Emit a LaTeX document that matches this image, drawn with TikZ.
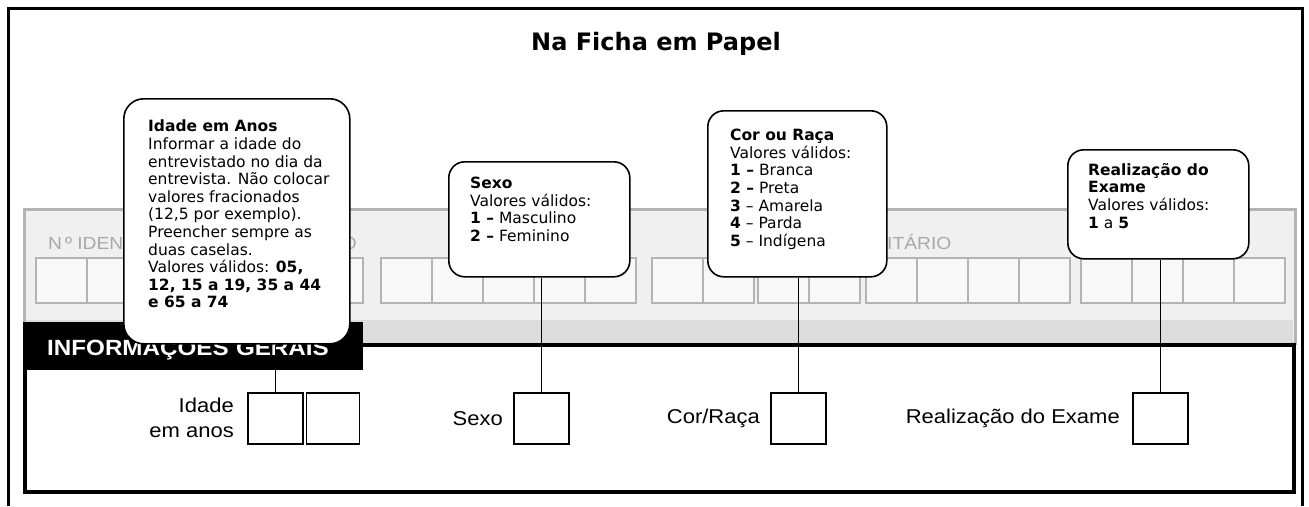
\documentclass[tikz,border=0pt]{standalone}
\usepackage{fontspec}
\setmainfont{DejaVu Sans}
\newfontfamily\formfont[FakeStretch=1.1]{Liberation Sans}
\usetikzlibrary{positioning}

\definecolor{panelgray}{HTML}{F0F0F0}
\definecolor{stripgray}{HTML}{DCDCDC}
\definecolor{linegray}{HTML}{B4B4B4}
\definecolor{cellgray}{HTML}{F8F8F8}
\definecolor{textgray}{HTML}{A8A8A8}

\begin{document}
\begin{tikzpicture}[x=1pt, y=-1pt,
    % Styles
    note/.style={rectangle, draw=black, fill=white, line width=1.6pt, rounded corners=16pt, anchor=north west, inner sep=0pt},
    notetext/.style={anchor=north west, align=left, inner sep=0pt, font=\fontsize{15.5}{17.6}\selectfont},
    answerbox/.style={rectangle, draw=black, line width=1.6pt, minimum width=55pt, minimum height=51pt, anchor=north west, inner sep=0pt},
    fieldname/.style={inner sep=0pt, align=right, font=\formfont\fontsize{20}{25}\selectfont},
    formtext/.style={inner sep=0pt, anchor=base west, text=textgray, font=\formfont\fontsize{17.5}{20}\selectfont},
    cell/.style={draw=linegray, fill=cellgray, line width=1.2pt},
    line/.style={draw, line width=1.2pt}
  ]
  \useasboundingbox (0,0) rectangle (1309,506);

  % Sheet
  \draw[line width=3pt] (8,506) -- (8,8) -- (1302,8) -- (1302,506);
  \node[font=\bfseries\fontsize{24}{28}\selectfont, anchor=base] (title) at (656,50) {Na Ficha em Papel};

  % Form behind
  \draw[draw=linegray, fill=panelgray, line width=3pt] (24,209) rectangle (1295,343);
  \fill[stripgray] (26,320) rectangle (1293,343);
  \foreach \start/\n in {36/4, 261/2, 381/5, 652/2, 758/2, 866/4, 1081/4}
    \foreach \i in {1,...,\n}
      \draw[cell] ({\start+(\i-1)*51},258) rectangle ++(51,45);
  \node[formtext] (idfield) at (48,249) {N\,º IDEN};
  \node[formtext, anchor=base east] (idfieldend) at (357,249) {O};
  \node[formtext] (unitfield) at (887,249) {ITÁRIO};

  % Informacoes gerais
  \draw[line width=4pt] (25,345) rectangle (1294,492);
  \node[fill=black, text=white, anchor=north west, minimum height=48pt, text width=292pt, text depth=0pt, inner xsep=24pt, inner ysep=0pt, align=left, font=\formfont\bfseries\fontsize{22}{24}\selectfont] (header) at (23,322) {INFORMAÇÕES GERAIS};

  % Boxes
  \node[answerbox] (idadebox) at (247,392) {};
  \node[answerbox, minimum width=53pt, right=2pt of idadebox] (idadebox2) {};
  \node[answerbox] (sexobox) at (513,392) {};
  \node[answerbox] (corbox) at (770,392) {};
  \node[answerbox] (examebox) at (1132,392) {};

  \node[fieldname, left=13pt of idadebox] (idadename) {Idade\\em anos};
  \node[fieldname, left=10pt of sexobox] (sexoname) {Sexo};
  \node[fieldname, left=10pt of corbox] (corname) {Cor/Raça};
  \node[fieldname, left=12pt of examebox] (examename) {Realização do Exame};

  % Callouts
  \node[note, rounded corners=20pt, minimum width=226pt, minimum height=245pt] (idadenote) at (123,98) {};
  \node[notetext, below right=22pt and 25pt of idadenote.north west] (idadetext) {%
    \textbf{Idade em Anos}\\
    Informar a idade do\\
    entrevistado no dia da\\
    entrevista. Não colocar\\
    valores fracionados\\
    (12,5 por exemplo).\\
    Preencher sempre as\\
    duas caselas.\\
    Valores válidos: \textbf{05,}\\
    \textbf{12, 15 a 19, 35 a 44}\\
    \textbf{e 65 a 74}};

  \node[note, minimum width=181pt, minimum height=115pt] (sexonote) at (448,161) {};
  \node[notetext, below right=16pt and 22pt of sexonote.north west] (sexotext) {%
    \textbf{Sexo}\\
    Valores válidos:\\
    \textbf{1 –} Masculino\\
    \textbf{2 –} Feminino};

  \node[note, minimum width=179pt, minimum height=166pt] (cornote) at (707,110) {};
  \node[notetext, below right=19pt and 23pt of cornote.north west] (cortext) {%
    \textbf{Cor ou Raça}\\
    Valores válidos:\\
    \textbf{1 –} Branca\\
    \textbf{2 –} Preta\\
    \textbf{3} – Amarela\\
    \textbf{4} – Parda\\
    \textbf{5} – Indígena};

  \node[note, minimum width=181pt, minimum height=109pt] (examenote) at (1067,149) {};
  \node[notetext, below right=14pt and 21pt of examenote.north west] (exametext) {%
    \textbf{Realização do}\\
    \textbf{Exame}\\
    Valores válidos:\\
    \textbf{1} a \textbf{5}};

  % Edges
  \path[line] (idadebox.north |- idadenote.south) -- (idadebox.north);
  \path[line] (sexobox.north |- sexonote.south) -- (sexobox.north);
  \path[line] (corbox.north |- cornote.south) -- (corbox.north);
  \path[line] (examebox.north |- examenote.south) -- (examebox.north);
\end{tikzpicture}
\end{document}
